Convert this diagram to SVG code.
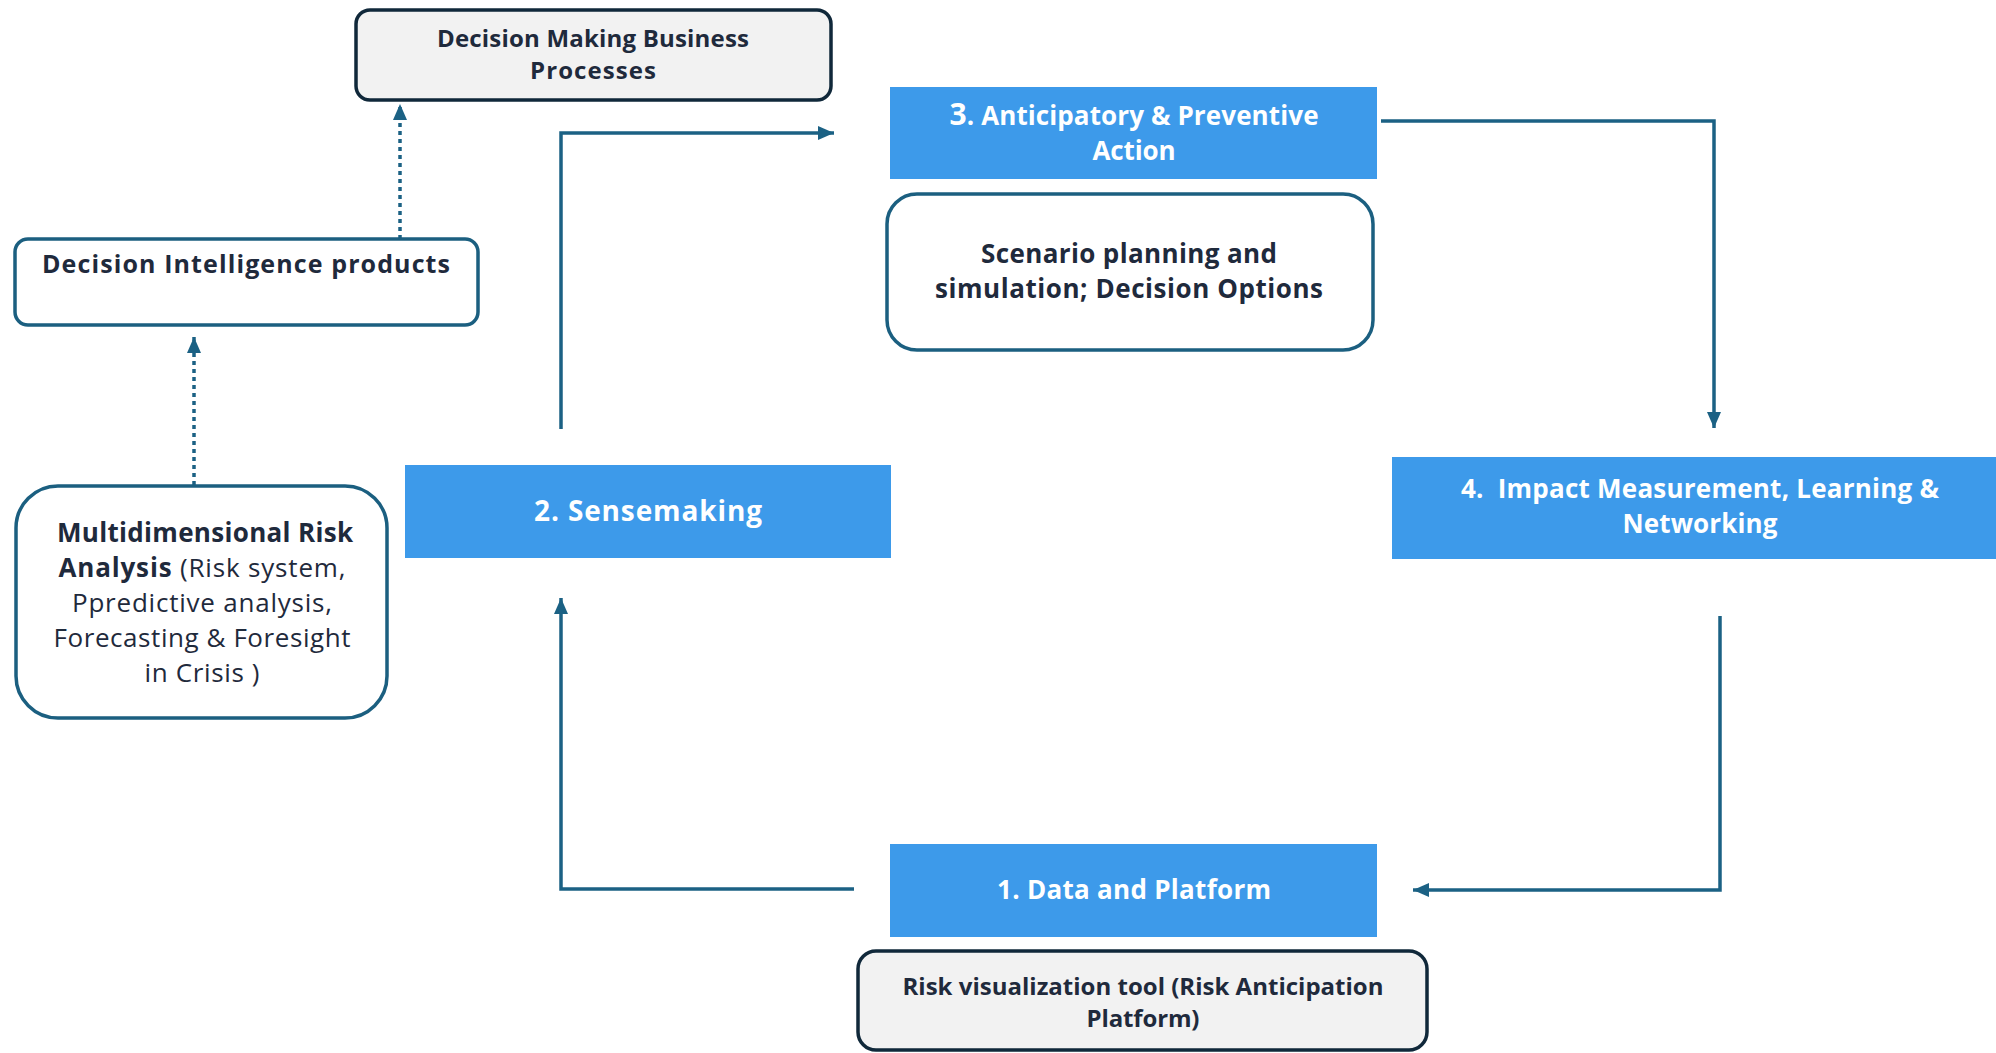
<svg xmlns="http://www.w3.org/2000/svg" width="1996" height="1053" viewBox="0 0 1996 1053">
<defs>
<style>
.t{font-family:"Open Sans","Noto Sans","Liberation Sans",sans-serif;fill:#1f2a3c;text-anchor:middle}
.b{font-weight:bold}
.w{fill:#ffffff;font-weight:bold}
.blue{fill:#3d9aea}
.grey{fill:#f2f2f2;stroke:#10283a;stroke-width:3.5}
.teal{fill:#ffffff;stroke:#1b5f80;stroke-width:3.5}
.c{fill:none;stroke:#1b6184;stroke-width:3.5}
.d{fill:none;stroke:#1b6184;stroke-width:3.5;stroke-dasharray:4 4}
</style>
<marker id="ah" markerUnits="userSpaceOnUse" markerWidth="18" markerHeight="14" refX="16" refY="7" orient="auto">
<path d="M0,0 L16,7 L0,14 z" fill="#1b6184"/>
</marker>
</defs>
<rect width="1996" height="1053" fill="#ffffff"/>

<g id="connectors">
<path class="d" d="M194,485 L194,337" marker-end="url(#ah)"/>
<path class="d" d="M400,239 L400,104" marker-end="url(#ah)"/>
<path class="c" d="M561,429 L561,133 L834,133" marker-end="url(#ah)"/>
<path class="c" d="M1381,121 L1714,121 L1714,428" marker-end="url(#ah)"/>
<path class="c" d="M1720,616 L1720,890 L1413,890" marker-end="url(#ah)"/>
<path class="c" d="M854,889 L561,889 L561,598" marker-end="url(#ah)"/>
</g>

<g id="decision-making">
<rect class="grey" x="356" y="10" width="475" height="90" rx="14"/>
<text class="t b" x="593" y="47" font-size="24" textLength="312">Decision Making Business</text>
<text class="t b" x="593" y="79" font-size="24" textLength="126">Processes</text>
</g>

<g id="decision-intelligence">
<rect class="teal" x="15" y="239" width="463" height="86" rx="13"/>
<text class="t b" x="246" y="273" font-size="25" textLength="408">Decision Intelligence products</text>
</g>

<g id="multidimensional">
<rect class="teal" x="16" y="486" width="371" height="232" rx="42"/>
<text class="t b" x="205" y="542" font-size="26" textLength="296">Multidimensional Risk</text>
<text class="t" x="202" y="577" font-size="26" textLength="287"><tspan class="b">Analysis</tspan> (Risk system,</text>
<text class="t" x="202" y="612" font-size="26" textLength="260">Ppredictive analysis,</text>
<text class="t" x="202" y="647" font-size="26" textLength="297">Forecasting &amp; Foresight</text>
<text class="t" x="202" y="682" font-size="26" textLength="115">in Crisis )</text>
</g>

<g id="sensemaking">
<rect class="blue" x="405" y="465" width="486" height="93"/>
<text class="t w" x="648" y="521" font-size="28" textLength="228">2. Sensemaking</text>
</g>

<g id="anticipatory">
<rect class="blue" x="890" y="87" width="487" height="92"/>
<text class="t w" x="1134" y="125" font-size="26" textLength="369"><tspan font-size="30">3</tspan>. Anticipatory &amp; Preventive</text>
<text class="t w" x="1134" y="160" font-size="26" textLength="83">Action</text>
</g>

<g id="scenario">
<rect class="teal" x="887" y="194" width="486" height="156" rx="30"/>
<text class="t b" x="1129" y="263" font-size="26" textLength="296">Scenario planning and</text>
<text class="t b" x="1129" y="298" font-size="26" textLength="388">simulation; Decision Options</text>
</g>

<g id="impact">
<rect class="blue" x="1392" y="457" width="610" height="102"/>
<text class="t w" x="1700" y="498" font-size="26" textLength="478" xml:space="preserve">4.  Impact Measurement, Learning &amp;</text>
<text class="t w" x="1700" y="533" font-size="26" textLength="155">Networking</text>
</g>

<g id="data-platform">
<rect class="blue" x="890" y="844" width="487" height="93"/>
<text class="t w" x="1134" y="899" font-size="26" textLength="274">1. Data and Platform</text>
</g>

<g id="risk-visualization">
<rect class="grey" x="858" y="951" width="569" height="99" rx="18"/>
<text class="t b" x="1143" y="995" font-size="24" textLength="481">Risk visualization tool (Risk Anticipation</text>
<text class="t b" x="1143" y="1027" font-size="24" textLength="113">Platform)</text>
</g>
</svg>
